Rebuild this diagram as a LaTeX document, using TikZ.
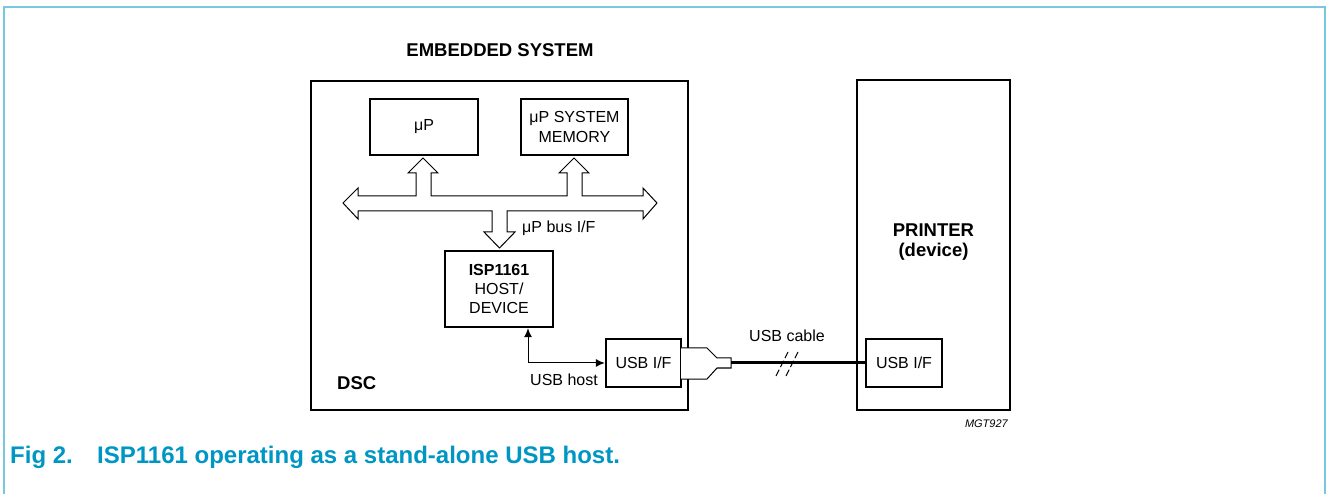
\documentclass[tikz,border=0pt]{standalone}
\usepackage{fontspec}
\setmainfont{Liberation Sans}
\usetikzlibrary{arrows.meta,calc}
\definecolor{framecol}{RGB}{120,200,222}
\definecolor{capcol}{RGB}{0,150,196}
\begin{document}
\begin{tikzpicture}[x=1pt,y=-1pt,
  box/.style={draw,line width=2.4pt,inner sep=0pt,align=center,font=\fontsize{16}{20}\selectfont},
  lbl/.style={inner sep=0pt,font=\fontsize{16}{20}\selectfont},
  blbl/.style={inner sep=0pt,align=center,font=\fontsize{18.5}{20}\bfseries\selectfont},
  thinline/.style={line width=1pt},
  capfont/.style={inner sep=0pt,text=capcol,font=\fontsize{24}{26}\bfseries\selectfont},
]
\useasboundingbox (0,0) rectangle (1331,494);
% frame
\draw[framecol,line width=2pt] (4,494) -- (4,7) -- (1325,7) -- (1325,494);

% main boxes
\node[box,minimum width=377pt,minimum height=329pt] (dsc) at (499.5,245.5) {};
\node[box,minimum width=153pt,minimum height=330pt] (prt) at (933.5,245) {};

\node[box,minimum width=108pt,minimum height=56pt] (up) at (424,127) {μP};
\node[box,minimum width=107pt,minimum height=56pt] (mem) at (574.5,127) {μP SYSTEM\\MEMORY};
\node[box,minimum width=108pt,minimum height=76pt,font=\fontsize{16}{19}\selectfont] (isp) at (499,289) {\textbf{ISP1161}\\HOST/\\DEVICE};
\node[box,minimum width=75pt,minimum height=48pt] (usbl) at (643.5,363) {USB I/F};
\node[box,minimum width=76pt,minimum height=48pt] (usbr) at (904,363) {USB I/F};

% bus arrow
\draw[thinline,fill=white] (343,203) -- (358,188) -- (358,196) -- (416,196) -- (416,173) -- (408,173) -- (423,158)
  -- (438,173) -- (431,173) -- (431,196) -- (567,196) -- (567,173) -- (559,173) -- (574,158) -- (589,173)
  -- (582,173) -- (582,196) -- (643,196) -- (643,188) -- (657,203) -- (643,219) -- (643,211) -- (507,211)
  -- (507,232) -- (515,232) -- (499.5,248) -- (484,232) -- (492,232) -- (492,211) -- (358,211) -- (358,219) -- cycle;

% USB host connector
\draw[thinline,{Latex[length=9pt,width=8pt]}-{Latex[length=9pt,width=8pt]}] ([xshift=29pt]isp.south) |- (usbl.west);

% plug
\draw[thinline,fill=white] (681,348) -- (707,348) -- (717,358) -- (731,358) -- (731,368) -- (717,368) -- (707,379) -- (681,379);
\coordinate (plugtip) at (731,363);
\draw[line width=3pt] (plugtip) -- (usbr.west);
% break marks
\draw[thinline,dash pattern=on 7pt off 3pt] (776,376) -- (788,352);
\draw[thinline,dash pattern=on 7pt off 3pt] (786,376) -- (798,352);

% labels
\node[blbl] (emb) at (500,50) {EMBEDDED SYSTEM};
\node[blbl] (prn) at (933.5,242) {PRINTER\\(device)};
\node[blbl,anchor=west] (dsclbl) at (337,383) {DSC};
\node[lbl,anchor=base west] (busl) at (522,233) {μP bus I/F};
\node[lbl] (hostl) at (564,380) {USB host};
\node[lbl] (cab) at (787,336) {USB cable};
\node[inner sep=0pt,anchor=base east,font=\fontsize{11}{13}\itshape\selectfont] (mgt) at (1008,427) {MGT927};

% caption
\node[capfont,anchor=base west] (fig) at (10,463) {Fig 2.};
\node[capfont,anchor=base west] (cap) at (97,463) {ISP1161 operating as a stand-alone USB host.};
\end{tikzpicture}
\end{document}
